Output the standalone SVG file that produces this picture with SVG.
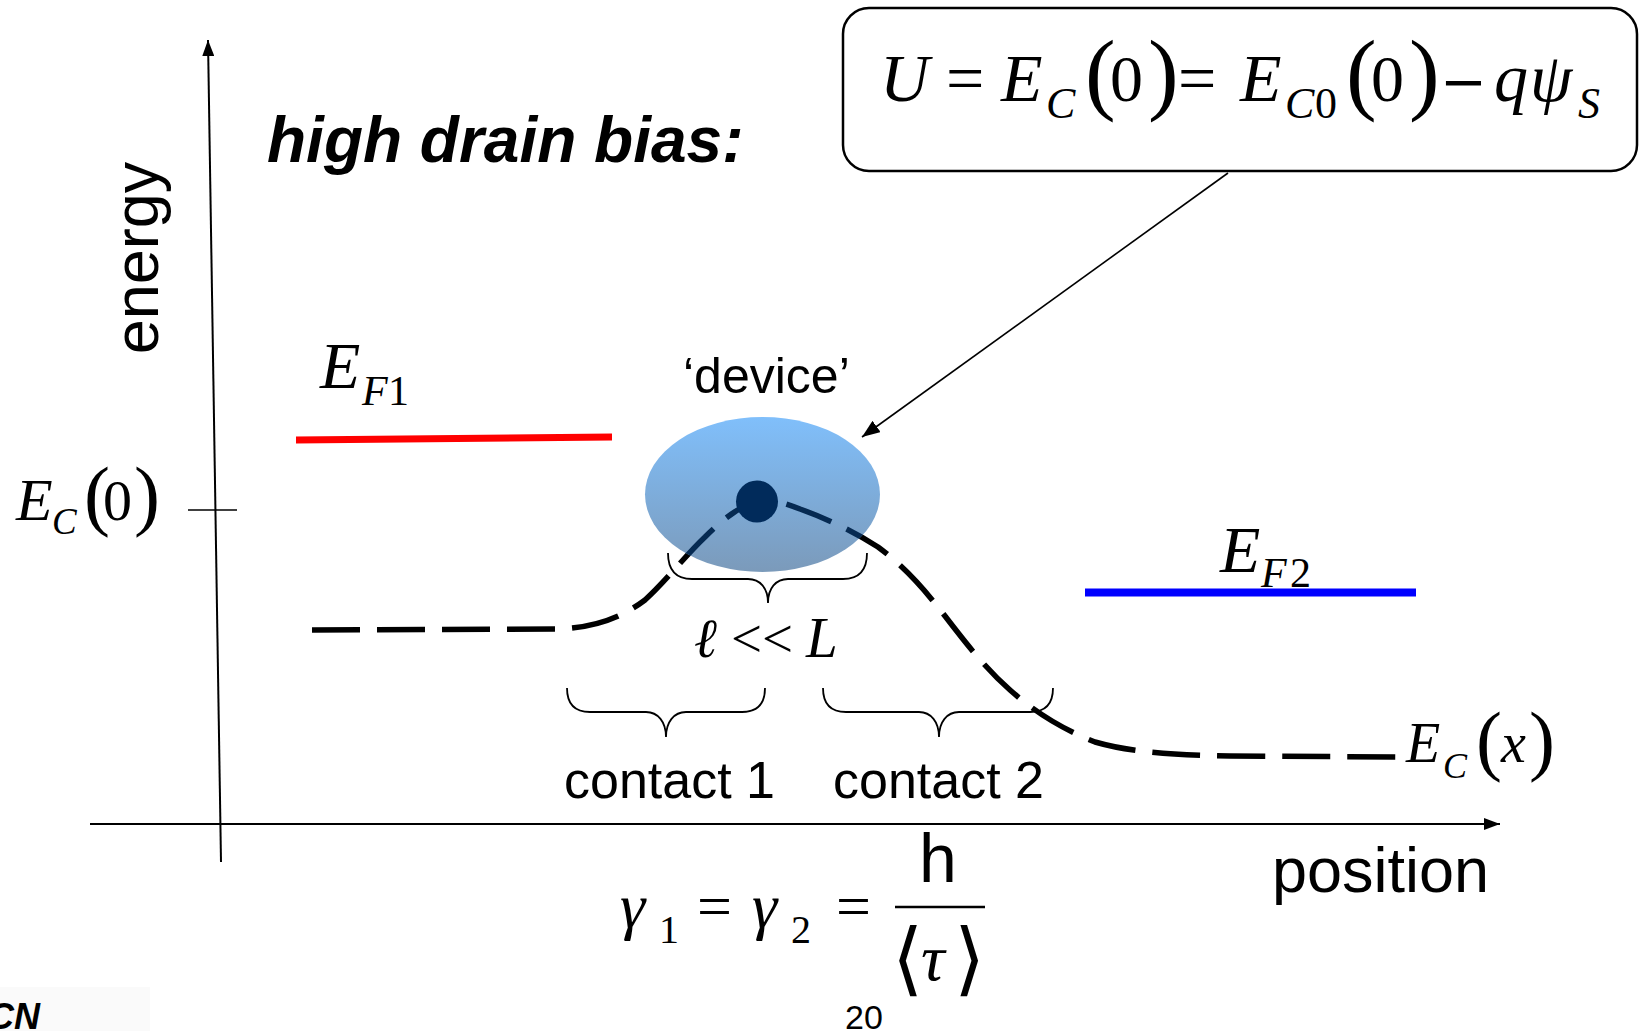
<svg xmlns="http://www.w3.org/2000/svg" width="1641" height="1031" viewBox="0 0 1641 1031">
<style>
.s{font-family:"Liberation Sans",Arial,sans-serif;fill:#000}
.m{font-family:"Liberation Serif","Times New Roman",serif;font-style:italic;fill:#000}
.u{font-family:"Liberation Serif","Times New Roman",serif;fill:#000}
.ax{stroke:#000;stroke-width:2;fill:none}
.br{stroke:#000;stroke-width:1.8;fill:none}
.cv{fill:none;stroke-width:5.5;stroke-dasharray:48 17}
</style>
<defs>
<marker id="ah" viewBox="0 0 10 10" refX="10" refY="5" markerWidth="7" markerHeight="7" markerUnits="userSpaceOnUse" orient="auto"><path d="M0,0 L10,5 L0,10 z" fill="#000"/></marker>
<marker id="axh" viewBox="0 0 10 10" refX="10" refY="5" markerWidth="16" markerHeight="12" markerUnits="userSpaceOnUse" orient="auto" preserveAspectRatio="none"><path d="M0,0 L10,5 L0,10 z" fill="#000"/></marker>
<marker id="arh" viewBox="0 0 10 10" refX="10" refY="5" markerWidth="18" markerHeight="14" markerUnits="userSpaceOnUse" orient="auto" preserveAspectRatio="none"><path d="M0,0 L10,5 L0,10 z" fill="#000"/></marker>
<linearGradient id="eg" x1="0" y1="0" x2="0" y2="1"><stop offset="0" stop-color="#80BFFB"/><stop offset="1" stop-color="#7B9ABA"/></linearGradient>
<clipPath id="ec"><ellipse cx="762.5" cy="494.5" rx="117.5" ry="77.5"/></clipPath>
</defs>
<rect x="0" y="987" width="150" height="44" fill="#fafafa"/>
<g id="axes">
<line class="ax" x1="221" y1="862" x2="208" y2="40" marker-end="url(#axh)"/>
<line class="ax" x1="90" y1="824" x2="1500" y2="824" marker-end="url(#axh)"/>
<line x1="188" y1="510" x2="237" y2="510" stroke="#000" stroke-width="1.6"/>
</g>
<g id="labels">
<text class="s" font-size="63" text-anchor="middle" transform="translate(158,258) rotate(-90)">energy</text>
<text class="s" font-size="63" x="1272" y="892">position</text>
<text class="s" font-size="64" font-weight="bold" font-style="italic" x="267" y="162">high drain bias:</text>
<text class="s" font-size="34" x="845" y="1029">20</text>
<text class="s" font-size="36" font-weight="bold" font-style="italic" x="-12" y="1029" fill="#101830">CN</text>
</g>
<g id="ef1">
<line x1="296" y1="440" x2="612" y2="437" stroke="#FF0000" stroke-width="7"/>
<text class="m" font-size="66" x="320" y="388">E</text>
<text class="m" font-size="42" x="362" y="405">F</text>
<text class="u" font-size="42" x="388" y="405">1</text>
</g>
<g id="ef2">
<line x1="1085" y1="592.5" x2="1416" y2="592.5" stroke="#0000FF" stroke-width="8"/>
<text class="m" font-size="66" x="1220" y="572">E</text>
<text class="m" font-size="42" x="1261" y="587">F</text>
<text class="u" font-size="42" x="1290" y="587">2</text>
</g>
<g id="ec0">
<text class="m" font-size="60" x="16" y="520">E</text>
<text class="m" font-size="37" x="52" y="534">C</text>
<text class="u" font-size="78" x="84" y="521">(</text>
<text class="u" font-size="58" x="103" y="520">0</text>
<text class="u" font-size="78" x="134" y="521">)</text>
</g>
<g id="connectors">
<path id="curve" class="cv" stroke="#000" d="M312,630 L560,629 C600,627 625,615 645,600 C665,582 685,556 705,537 C722,520 738,507 757,501 C770,498 785,503 800,509 C830,520 855,532 878,547 C905,567 925,590 945,616 C965,642 985,668 1010,690 C1035,712 1060,728 1095,742 C1130,752 1170,755 1230,756 L1410,757"/>
<line x1="1228" y1="173" x2="862" y2="437" stroke="#000" stroke-width="1.6" marker-end="url(#arh)"/>
</g>
<g id="device">
<ellipse cx="762.5" cy="494.5" rx="117.5" ry="77.5" fill="url(#eg)"/>
<path class="cv" stroke="#062a52" clip-path="url(#ec)" d="M312,630 L560,629 C600,627 625,615 645,600 C665,582 685,556 705,537 C722,520 738,507 757,501 C770,498 785,503 800,509 C830,520 855,532 878,547 C905,567 925,590 945,616 C965,642 985,668 1010,690 C1035,712 1060,728 1095,742 C1130,752 1170,755 1230,756 L1410,757"/>
<circle cx="757" cy="501.5" r="21" fill="#012B5B"/>
<text class="s" font-size="50" x="683" y="393">‘device’</text>
</g>
<g id="braces">
<path class="br" d="M668,553 C668,570 676,579 692,579 L748,579 C760,579 768,588 768,603 C768,588 776,579 788,579 L843,579 C859,579 867,570 867,553"/>
<path class="br" d="M567,688 C567,704 574,712 590,712 L646,712 C658,712 666,722 666,737 C666,722 674,712 686,712 L742,712 C758,712 765,704 765,688"/>
<path class="br" d="M823,688 C823,704 830,712 846,712 L919,712 C931,712 939,722 939,737 C939,722 947,712 959,712 L1030,712 C1046,712 1053,704 1053,688"/>
<text class="m" font-size="55" x="694" y="657">ℓ</text>
<text class="u" font-size="55" x="731" y="657">&lt;&lt;</text>
<text class="m" font-size="57" x="806" y="657">L</text>
<text class="s" font-size="52" x="564" y="798">contact 1</text>
<text class="s" font-size="52" x="833" y="798">contact 2</text>
</g>
<g id="ecx">
<text class="m" font-size="56" x="1406" y="762">E</text>
<text class="m" font-size="36" x="1443" y="778">C</text>
<text class="u" font-size="78" x="1476" y="766">(</text>
<text class="m" font-size="56" x="1501" y="762">x</text>
<text class="u" font-size="78" x="1529" y="766">)</text>
</g>
<g id="formula">
<rect x="843" y="8" width="794" height="163" rx="26" fill="#fff" stroke="#000" stroke-width="2.5"/>
<text class="m" font-size="68" x="880" y="101">U</text>
<text class="u" font-size="68" x="946" y="101">=</text>
<text class="m" font-size="68" x="1001" y="101">E</text>
<text class="m" font-size="44" x="1046" y="118">C</text>
<text class="u" font-size="92" x="1085" y="103">(</text>
<text class="u" font-size="66" x="1110" y="101">0</text>
<text class="u" font-size="92" x="1148" y="103">)</text>
<text class="u" font-size="68" x="1178" y="101">=</text>
<text class="m" font-size="68" x="1240" y="101">E</text>
<text class="m" font-size="44" x="1285" y="118">C</text>
<text class="u" font-size="44" x="1315" y="118">0</text>
<text class="u" font-size="92" x="1346" y="103">(</text>
<text class="u" font-size="66" x="1371" y="101">0</text>
<text class="u" font-size="92" x="1409" y="103">)</text>
<text font-family="DejaVu Serif,serif" font-size="56" x="1440" y="101">−</text>
<text class="m" font-size="68" x="1494" y="101">q</text>
<text class="m" font-size="68" x="1530" y="101">ψ</text>
<text class="m" font-size="44" x="1578" y="118">S</text>
</g>
<g id="gamma">
<text class="m" font-size="64" x="620" y="927">γ</text>
<text class="u" font-size="40" x="659" y="943">1</text>
<text class="u" font-size="62" x="697" y="927">=</text>
<text class="m" font-size="64" x="752" y="927">γ</text>
<text class="u" font-size="40" x="791" y="943">2</text>
<text class="u" font-size="62" x="836" y="927">=</text>
<line x1="895" y1="907" x2="985" y2="907" stroke="#000" stroke-width="2.5"/>
<text class="s" font-size="68" x="919" y="882">h</text>
<text font-family="DejaVu Serif,serif" font-size="80" x="892" y="986">⟨</text>
<text class="m" font-size="66" x="921" y="980">τ</text>
<text font-family="DejaVu Serif,serif" font-size="80" x="954" y="986">⟩</text>
</g>
</svg>
